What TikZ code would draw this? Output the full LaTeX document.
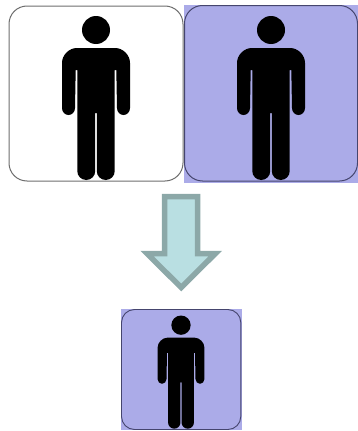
\documentclass[tikz,border=0pt]{standalone}
\definecolor{boxfill}{HTML}{ABABE8}
\definecolor{arrowfill}{HTML}{B9DFE2}
\definecolor{arrowline}{HTML}{8CA8A8}
\definecolor{edgegray}{HTML}{6E6E6E}
\definecolor{edgeblue}{HTML}{45456E}
\tikzset{
  panelfill/.style={fill=boxfill,draw=none},
  plainbox/.style={draw=edgegray,line width=1pt,fill=white,rounded corners=18pt},
  bluebox/.style={draw=edgeblue,line width=1pt,rounded corners=18pt},
  smallbox/.style={draw=edgeblue,line width=0.9pt,rounded corners=13pt},
  figureshape/.style={fill=black,draw=none},
  bigarrow/.style={fill=arrowfill,draw=arrowline,line width=5.5pt,miter limit=10}
}
\newcommand{\personfig}[3]{%
  \begin{scope}[shift={(#1,#2)},scale=#3]
    \fill[figureshape] (0,14) circle (14);
    \fill[figureshape]
      (-19,32) -- (19,32)
      .. controls (27,32) and (34,39) .. (34,47)
      -- (34,92)
      .. controls (34,96) and (31,99) .. (27.5,99)
      .. controls (24,99) and (21,96) .. (21,92)
      -- (20.3,54) -- (18.7,54)
      -- (18.7,155.25)
      .. controls (18.7,160) and (14.6,164) .. (9.75,164)
      .. controls (4.9,164) and (0.8,160) .. (0.8,155.25)
      -- (0.8,97) -- (-0.8,97)
      -- (-0.8,155.25)
      .. controls (-0.8,160) and (-4.9,164) .. (-9.75,164)
      .. controls (-14.6,164) and (-18.7,160) .. (-18.7,155.25)
      -- (-18.7,54) -- (-20.3,54)
      -- (-21,92)
      .. controls (-21,96) and (-24,99) .. (-27.5,99)
      .. controls (-31,99) and (-34,96) .. (-34,92)
      -- (-34,47)
      .. controls (-34,39) and (-27,32) .. (-19,32)
      -- cycle;
  \end{scope}}
\begin{document}
\begin{tikzpicture}[x=1pt,y=-1pt]
  \useasboundingbox (0,0) rectangle (358,431);
  % left panel
  \draw[plainbox] (9,6) rectangle (183,181);
  \personfig{96}{16}{1}
  % right panel
  \fill[panelfill] (183.5,5) rectangle (358,183);
  \draw[bluebox] (184.5,5.5) rectangle (357.5,181);
  \personfig{271}{16}{1}
  % arrow
  \draw[bigarrow] (164.7,196.7) -- (197.7,196.7) -- (197.7,253.5) -- (215.4,253.5)
    -- (181.2,287.5) -- (147,253.5) -- (164.7,253.5) -- cycle;
  % small panel
  \fill[panelfill] (121,309) rectangle (242,430);
  \draw[smallbox] (121.5,309.5) rectangle (240.8,429.5);
  \personfig{181}{315.5}{0.69}
\end{tikzpicture}
\end{document}
